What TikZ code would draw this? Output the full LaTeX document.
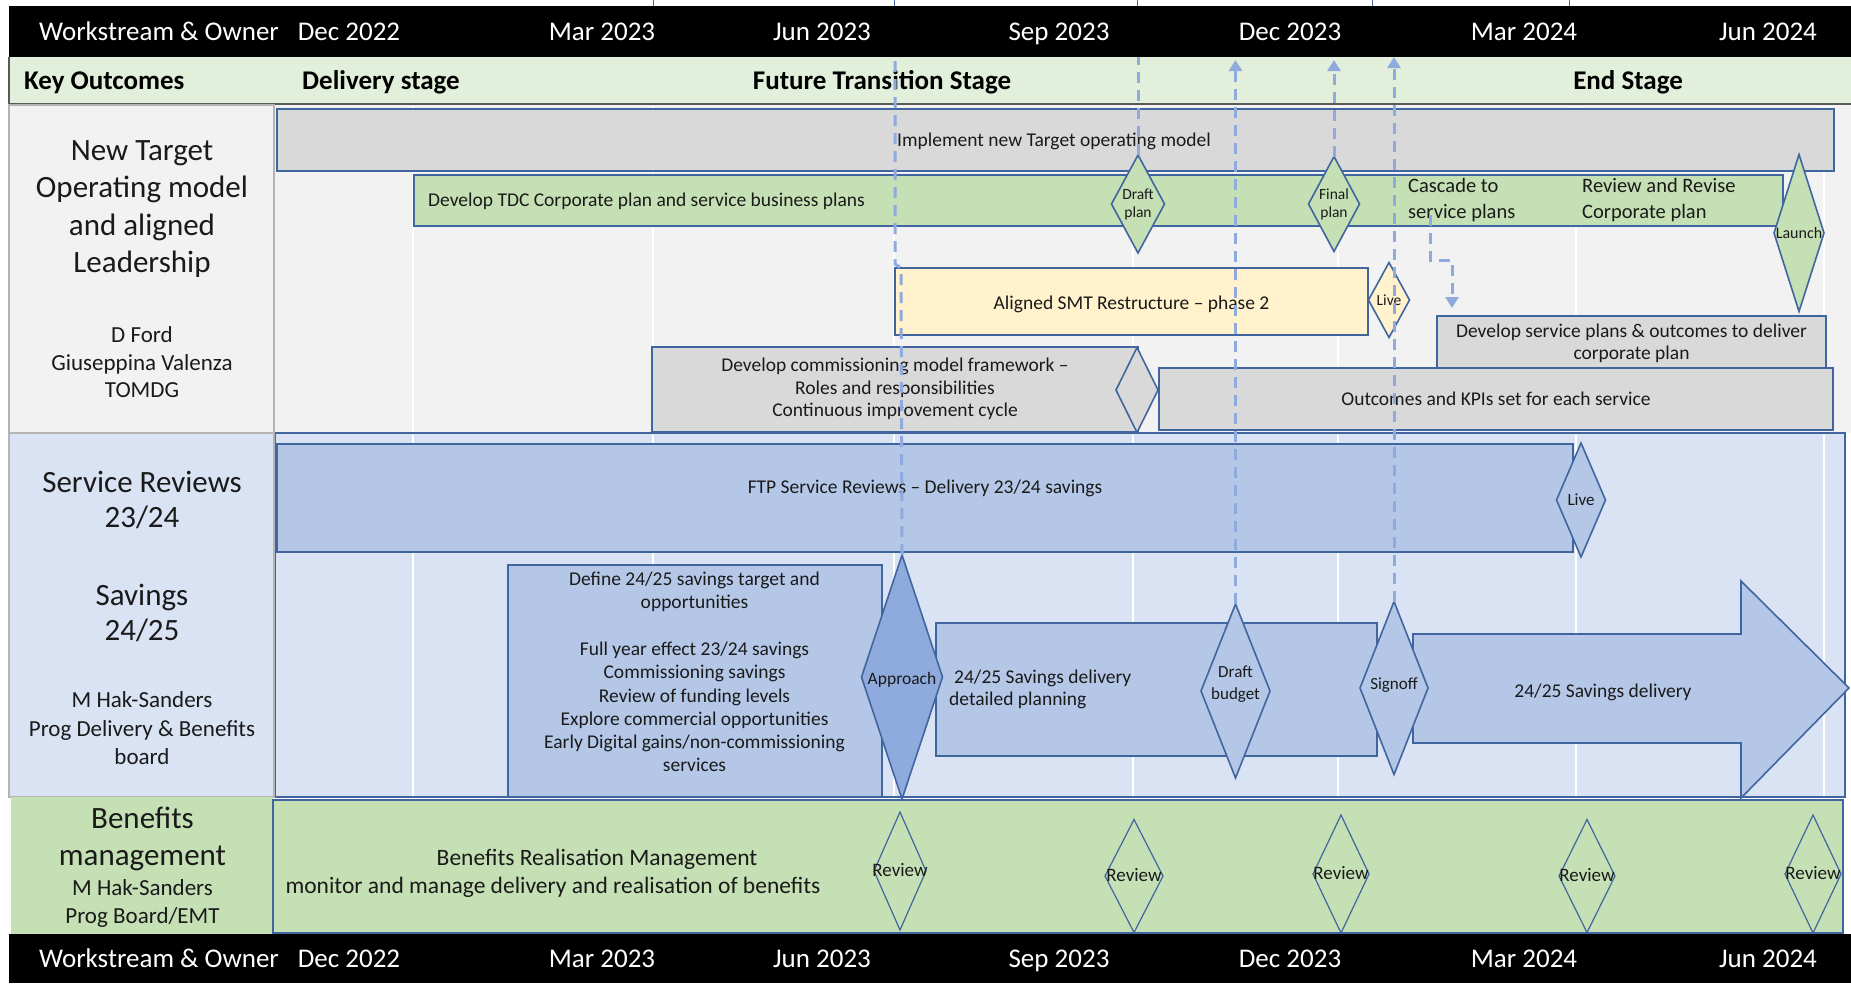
\documentclass[tikz,border=0pt]{standalone}
\usepackage{fontspec}
\setmainfont{Carlito}
\usetikzlibrary{shapes.geometric,arrows.meta}

\definecolor{hdrgreen}{HTML}{E2EFDA}
\definecolor{rowgrey}{HTML}{F2F2F2}
\definecolor{bargrey}{HTML}{D9D9D9}
\definecolor{bargreen}{HTML}{C5E0B4}
\definecolor{baryellow}{HTML}{FFF2CC}
\definecolor{rowblue}{HTML}{DAE3F3}
\definecolor{barblue}{HTML}{B4C7E7}
\definecolor{midblue}{HTML}{8FAADC}
\definecolor{edgeblue}{HTML}{41669F}
\definecolor{dashblue}{HTML}{8FAADC}
\definecolor{cellgrey}{HTML}{B4B4B4}
\definecolor{txtdark}{HTML}{1A1A1A}

\newcommand{\myfs}[2]{\fontsize{#1}{#2}\selectfont}

\tikzset{
  bar/.style={draw=edgeblue, line width=2pt, inner sep=0pt, outer sep=0pt, rectangle},
  mstone/.style={draw=edgeblue, line width=1.6pt, diamond, inner sep=0pt, outer sep=0pt},
  mlab/.style={font=\myfs{15.5}{18}, align=center, inner sep=0pt, text=txtdark},
  btxt/.style={font=\myfs{19.5}{22.5}, inner sep=0pt, align=center, text=txtdark},
  oneline/.style={text height=12pt, text depth=0pt},
  hdrtxt/.style={font=\myfs{27}{30}, text=white, inner sep=0pt, text height=17pt, text depth=0pt},
  keytxt/.style={font=\bfseries\myfs{27}{30}, inner sep=0pt, text=black, text height=17pt, text depth=0pt},
  bigtxt/.style={font=\myfs{31}{37.5}, align=center, inner sep=0pt, text=txtdark},
  smalltxt/.style={font=\myfs{23}{27.5}, align=center, inner sep=0pt, text=txtdark},
  dashconn/.style={draw=dashblue, line width=3pt, dash pattern=on 11pt off 7pt},
  tipconn/.style={dashconn, -{Triangle[width=13pt,length=11pt]}},
  gridln/.style={draw=white, line width=2pt},
}

\begin{document}
\begin{tikzpicture}[x=1pt,y=-1pt]
\useasboundingbox (0,0) rectangle (1851,983);
\fill[white] (0,0) rectangle (1851,983);

% fragments of shapes cut off above the picture
\foreach \xx in {653,894,1137,1372,1569} \draw[edgeblue, line width=1pt] (\xx,0) -- (\xx,6);

% ---------- header bars ----------
\fill[black] (9,6) rectangle (1851,57);
\fill[hdrgreen] (9,57) rectangle (1851,104);
\draw[black!65, line width=1.5pt] (9,57) -- (9,104) -- (1851,104);

\node[hdrtxt] (hws) at (159,32) {Workstream \& Owner};
\node[hdrtxt] (hd1) at (349,32) {Dec 2022};
\node[hdrtxt] (hd2) at (602,32) {Mar 2023};
\node[hdrtxt] (hd3) at (822,32) {Jun 2023};
\node[hdrtxt] (hd4) at (1059,32) {Sep 2023};
\node[hdrtxt] (hd5) at (1290,32) {Dec 2023};
\node[hdrtxt] (hd6) at (1524,32) {Mar 2024};
\node[hdrtxt] (hd7) at (1768,32) {Jun 2024};

\node[keytxt, anchor=west] (kout) at (24,81) {Key Outcomes};
\node[keytxt, anchor=west] (kdel) at (302,81) {Delivery stage};
\node[keytxt] (kfut) at (882,81) {Future Transition Stage};
\node[keytxt] (kend) at (1628,81) {End Stage};

% ---------- row backgrounds ----------
\fill[rowgrey] (275,105) rectangle (1851,433);
\filldraw[fill=rowblue, draw=edgeblue, line width=1.5pt] (275,433) rectangle (1845,797);
\filldraw[fill=rowgrey, draw=cellgrey, line width=1.5pt] (9,105) rectangle (274,433);
\filldraw[fill=rowblue, draw=cellgrey, line width=1.5pt] (9,433) rectangle (274,797);
\fill[bargreen] (11,797) rectangle (273,934);

\foreach \gx in {413,653,894,1133,1338,1576,1824} {
  \draw[gridln] (\gx,106) -- (\gx,432);
  \draw[gridln] (\gx,435) -- (\gx,796);
}

% ---------- workstream labels ----------
\node[bigtxt] (l1t) at (142,209) {New Target\\Operating model\\and aligned\\Leadership};
\node[smalltxt] (l1o) at (142,362.5) {D Ford\\Giuseppina Valenza\\TOMDG};
\node[bigtxt, font=\myfs{31}{35}] (l2t) at (142,499.5) {Service Reviews\\23/24};
\node[bigtxt, font=\myfs{31}{35}] (l3t) at (142,612.5) {Savings\\24/25};
\node[smalltxt, font=\myfs{23}{28.5}] (l2o) at (142,728.5) {M Hak-Sanders\\Prog Delivery \& Benefits\\board};
\node[bigtxt, font=\myfs{31}{37}] (l4t) at (142.5,838.5) {Benefits\\management};
\node[smalltxt, font=\myfs{23}{28}] (l4o) at (142.5,903) {M Hak-Sanders\\Prog Board/EMT};

% ---------- row 1 : target operating model ----------
\node[bar, fill=bargrey, minimum width=1557pt, minimum height=62pt] (impl) at (1055.5,140) {};
\node[btxt, oneline] (implT) at (1054,140) {Implement new Target operating model};

\node[bar, fill=bargreen, minimum width=1369pt, minimum height=51pt] (tdc) at (1098.5,200.5) {};
\node[btxt, oneline, anchor=west] (tdcT) at (428,200) {Develop TDC Corporate plan and service business plans};
\node[btxt, font=\myfs{20.5}{26}, align=left, anchor=west] (casc) at (1408,200) {Cascade to\\service plans};
\node[btxt, font=\myfs{20.5}{26}, align=left, anchor=west] (revc) at (1582,200) {Review and Revise\\Corporate plan};

\node[bar, fill=baryellow, minimum width=473pt, minimum height=67pt] (smt) at (1131.5,301.5) {};
\node[btxt, oneline] (smtT) at (1131.5,303) {Aligned SMT Restructure – phase 2};

\node[bar, fill=bargrey, minimum width=389pt, minimum height=52pt] (dsp) at (1631.5,342) {};
\node[btxt, font=\myfs{19.5}{22}] (dspT) at (1631.5,343) {Develop service plans \& outcomes to deliver\\corporate plan};

\node[bar, fill=bargrey, minimum width=674pt, minimum height=62pt] (okpi) at (1496,399) {};
\node[btxt, oneline] (okpiT) at (1496,399) {Outcomes and KPIs set for each service};

\node[bar, fill=bargrey, minimum width=486pt, minimum height=85pt] (dcm) at (895,389.5) {};
\node[btxt] (dcmT) at (895,389) {Develop commissioning model framework –\\Roles and responsibilities\\Continuous improvement cycle};

\node[mstone, fill=bargrey, minimum width=42pt, minimum height=85pt] (dcmd) at (1137,390) {};
\node[mstone, fill=bargreen, minimum width=53pt, minimum height=98pt,
      label={[mlab, name=dplanT]center:{Draft\\plan}}] (dplan) at (1138,204) {};
\node[mstone, fill=bargreen, minimum width=51pt, minimum height=95pt,
      label={[mlab, name=fplanT]center:{Final\\plan}}] (fplan) at (1334,204) {};
\node[mstone, fill=bargreen, minimum width=50pt, minimum height=157pt,
      label={[mlab, font=\myfs{16}{18}, name=launchT, text height=10pt, text depth=0pt]center:{Launch}}] (launch) at (1799,233) {};
\node[mstone, fill=baryellow, minimum width=41pt, minimum height=75pt,
      label={[mlab, name=live1T, text height=10pt, text depth=0pt]center:{Live}}] (live1) at (1389,300) {};

% ---------- row 2 : service reviews / savings ----------
\node[bar, fill=barblue, minimum width=1296pt, minimum height=108pt] (ftp) at (925,498) {};
\node[btxt, oneline] (ftpT) at (925,487) {FTP Service Reviews – Delivery 23/24 savings};
\node[mstone, fill=barblue, minimum width=49pt, minimum height=114pt,
      label={[mlab, font=\myfs{17}{20}, name=live2T, text height=10.5pt, text depth=0pt]center:{Live}}] (live2) at (1581,500) {};

\node[bar, fill=barblue, minimum width=374pt, minimum height=232pt] (def) at (695,681) {};
\node[btxt, font=\myfs{19.5}{23.3}] (defT) at (694.5,672) {Define 24/25 savings target and\\opportunities\\[23.3pt]Full year effect 23/24 savings\\Commissioning savings\\Review of funding levels\\Explore commercial opportunities\\Early Digital gains/non-commissioning\\services};

\node[bar, fill=barblue, minimum width=441pt, minimum height=133pt] (plan) at (1156.5,689.5) {};
\node[btxt, font=\myfs{19.5}{22}, align=left, anchor=west] (planT) at (949,689) {\hspace*{5pt}24/25 Savings delivery\\detailed planning};

\filldraw[fill=barblue, draw=edgeblue, line width=1.6pt]
  (1413,634) -- (1741,634) -- (1741,581) -- (1849,688) -- (1741,798) -- (1741,743) -- (1413,743) -- cycle;
\node[btxt, oneline] (arrT) at (1603,691) {24/25 Savings delivery};

\node[mstone, fill=midblue, minimum width=81pt, minimum height=244pt,
      label={[mlab, font=\myfs{17.5}{20}, name=apprT, text height=10.5pt, text depth=0pt, yshift=-2pt]center:{Approach}}] (appr) at (902,677) {};
\node[mstone, fill=barblue, minimum width=69pt, minimum height=174pt,
      label={[mlab, font=\myfs{17}{22}, name=dbudT, yshift=7pt]center:{Draft\\budget}}] (dbud) at (1235.5,691) {};
\node[mstone, fill=barblue, minimum width=68pt, minimum height=173pt,
      label={[mlab, font=\myfs{17}{20}, name=signT, text height=10.5pt, text depth=0pt, yshift=4pt]center:{Signoff}}] (sign) at (1394,688) {};

% ---------- row 3 : benefits ----------
\node[bar, line width=1.2pt, fill=bargreen, minimum width=1570pt, minimum height=133pt] (ben) at (1058,866.5) {};
\node[btxt, font=\myfs{23.5}{28}, text height=14.5pt, text depth=0pt] (benT1) at (597,858) {Benefits Realisation Management};
\node[btxt, font=\myfs{23.5}{28}, text height=14.5pt, text depth=0pt] (benT2) at (553,886) {monitor and manage delivery and realisation of benefits};

\foreach \nm/\cx/\cy/\ww/\hh in {rv1/900/871/52/118, rv2/1134/876/58/113, rv3/1341/874/56/118, rv4/1587/876/56/113, rv5/1813/874/56/118}
  \node[mstone, line width=1.2pt, minimum width=\ww pt, minimum height=\hh pt,
        label={[mlab, font=\myfs{19}{20}, name=\nm T, text height=12pt, text depth=0pt, yshift=1pt]center:{Review}}] (\nm) at (\cx,\cy) {};

% ---------- bottom bar ----------
\fill[black] (9,934) rectangle (1851,983);
\node[hdrtxt] (fws) at (159,959) {Workstream \& Owner};
\node[hdrtxt] (fd1) at (349,959) {Dec 2022};
\node[hdrtxt] (fd2) at (602,959) {Mar 2023};
\node[hdrtxt] (fd3) at (822,959) {Jun 2023};
\node[hdrtxt] (fd4) at (1059,959) {Sep 2023};
\node[hdrtxt] (fd5) at (1290,959) {Dec 2023};
\node[hdrtxt] (fd6) at (1524,959) {Mar 2024};
\node[hdrtxt] (fd7) at (1768,959) {Jun 2024};

% ---------- dashed connectors ----------
\coordinate (aBendA) at (901,268);
\coordinate (aBendB) at (895,264);
\coordinate (aTop) at (895,57);
\draw[dashconn] (appr.north) -- (aBendA) -- (aBendB) -- (aTop);

\coordinate (bTop) at (1137,57);
\draw[dashconn] (dplan.north) -- (dplan.north |- bTop);

\coordinate (cTop) at (0,60);
\draw[tipconn] (dbud.north) -- (dbud.north |- cTop);
\draw[tipconn] (fplan.north) -- (fplan.north |- cTop);
\coordinate (eTop) at (0,57);
\draw[tipconn] (sign.north) -- (sign.north |- eTop);

\coordinate (fA) at (1430,215);
\coordinate (fB) at (1452,260);
\coordinate (fC) at (1452,308);
\draw[tipconn] (fA) |- (fB) -- (fC);

\end{tikzpicture}
\end{document}
